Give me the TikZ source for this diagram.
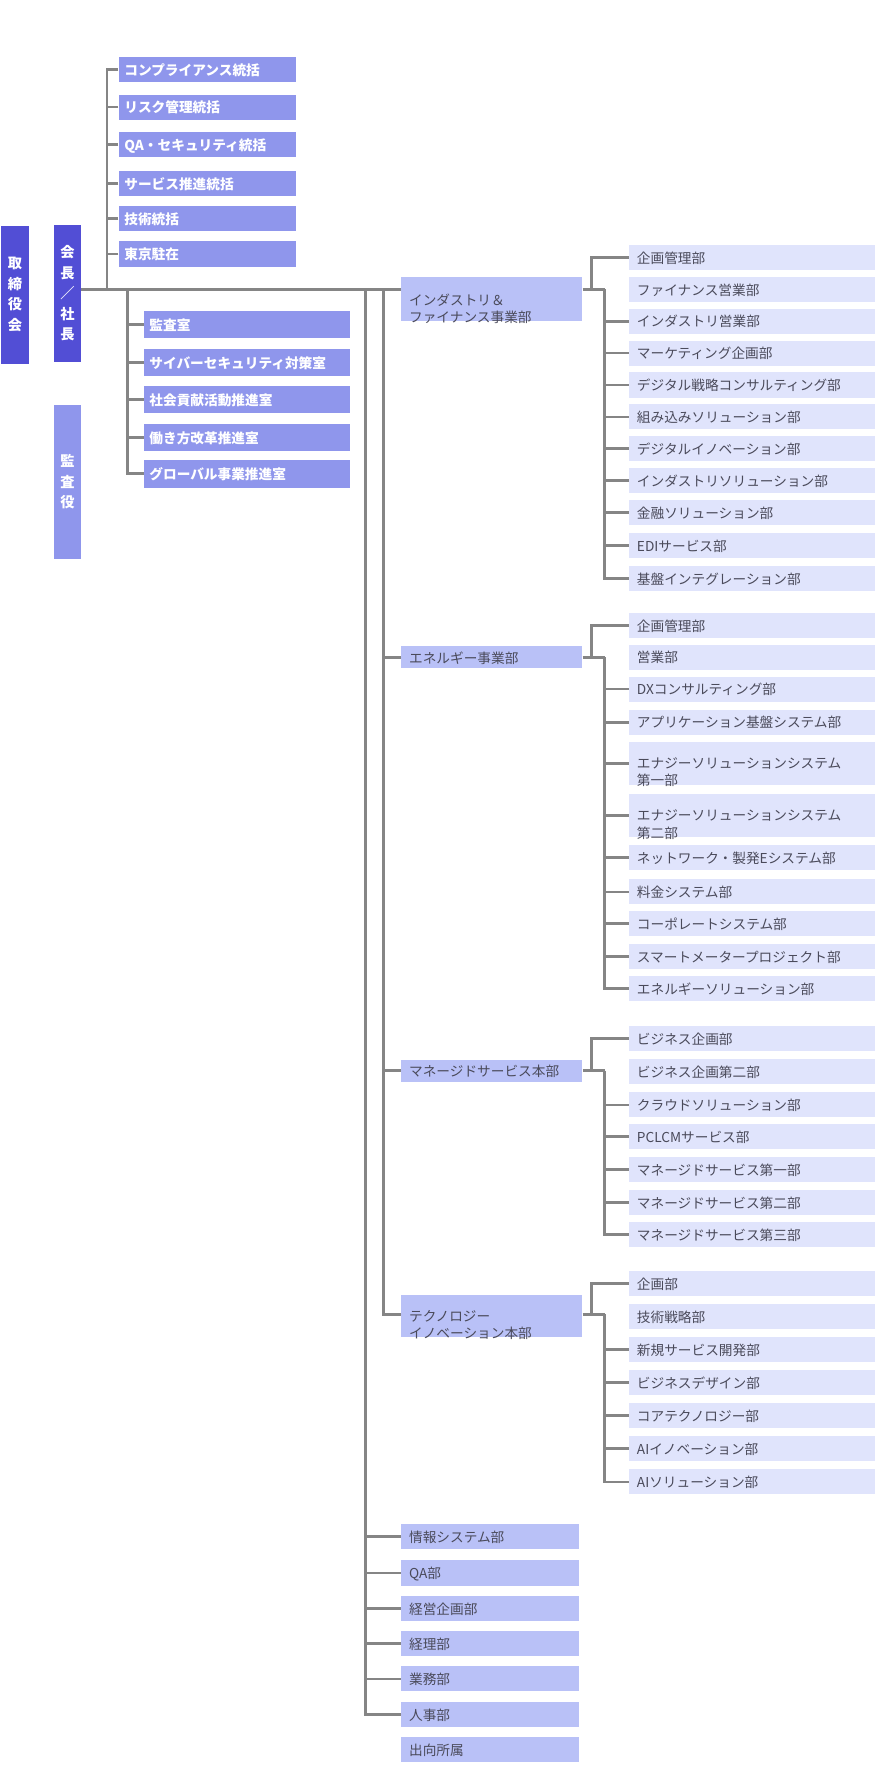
\documentclass[tikz,border=0pt]{standalone}
\usepackage{fontspec}
\setmainfont{Noto Sans CJK JP}
\begin{document}
\begin{tikzpicture}[x=1pt,y=-1pt,
  base/.style={inner sep=0pt,anchor=west,align=left,font=\fontsize{12}{15}\selectfont,text depth=0pt},
  dark/.style={fill=cdark,text=white,inner sep=0pt,align=center,font=\fontsize{12.5}{18}\selectfont\bfseries,minimum width=24},
  upper/.style={base,fill=cmid,text=white,minimum height=22,text width=#1-10,inner xsep=5pt,font=\fontsize{12}{15}\selectfont\bfseries},
  divbox/.style={base,fill=cdiv,text=ctxt,text width=145,inner xsep=7pt},
  dept/.style={base,fill=cdept,text=ctxt,text width=202,inner xsep=7pt},
  ln/.style={draw=cline,line width=2.4pt}]
\definecolor{cdark}{HTML}{524ED5}
\definecolor{cmid}{HTML}{8F96EC}
\definecolor{cdiv}{HTML}{B9C1F7}
\definecolor{cdept}{HTML}{E0E4FC}
\definecolor{ctxt}{HTML}{4A4A5A}
\definecolor{cline}{HTML}{858585}
\useasboundingbox (0,0) rectangle (768,1568);
% left column
\node[dark,minimum height=121,anchor=north west] (tori) at (1,198) {取\\締\\役\\会};
\node[dark,minimum height=121,anchor=north west] (pres) at (47,197) {会\\長\\／\\社\\長};
\node[dark,fill=cmid,minimum height=136,anchor=north west] (kansa) at (47,355) {監\\査\\役};
% upper staff
\foreach \n/\y/\t in {a1/61/コンプライアンス統括,a2/94/リスク管理統括,a3/127/QA・セキュリティ統括,a4/161/サービス推進統括,a5/192/技術統括,a6/223/東京駐在}{
  \node[upper=156,minimum height=22] (\n) at (104,\y) {\t};
  \draw[ln] (\n.west) -- (94,\y);
}
\draw[ln] (94,60) -- (94,254);
\foreach \n/\y/\t in {b1/285/監査室,b2/318/サイバーセキュリティ対策室,b3/351/社会貢献活動推進室,b4/384/働き方改革推進室,b5/416/グローバル事業推進室}{
  \node[upper=181,minimum height=24] (\n) at (126,\y) {\t};
  \draw[ln] (\n.west) -- (112,\y);
}
\draw[ln] (112,254) -- (112,417.2);
% divisions
\node[divbox,minimum height=39,anchor=north west] (d1) at (352,243) {インダストリ＆\\ファイナンス事業部};
\node[divbox,minimum height=19] (d2) at (352,577) {エネルギー事業部};
\node[divbox,minimum height=19] (d3) at (352,940) {マネージドサービス本部};
\node[divbox,minimum height=37,anchor=north west] (d4) at (352,1137) {テクノロジー\\イノベーション本部};
\draw[ln] (pres.east |- 0,254) -- (352,254);
\draw[ln] (337,254) -- (337,1155.2);
\draw[ln] (337,577) -- (d2.west);
\draw[ln] (337,940) -- (d3.west);
\draw[ln] (337,1154) -- (352,1154);
% bottom
\foreach \n/\y/\t in {e1/1349/情報システム部,e2/1381/QA部,e3/1412/経営企画部,e4/1443/経理部,e5/1474/業務部,e6/1505/人事部}{
  \node[divbox,text width=142,minimum height=22] (\n) at (352,\y) {\t};
  \draw[ln] (\n.west) -- (321,\y);
}
\node[divbox,text width=142,minimum height=22] (e7) at (352,1536) {出向所属};
\draw[ln] (321,254) -- (321,1506.2);
% departments
\newcommand{\grp}[4]{% #1 division y, #2 first y, #3 last y, #4 division node
  \draw[ln] (#4.east |- 0,#1) -- (531,#1);
  \draw[ln] (519,#1) -- (519,#2) -- (552,#2);
  \draw[ln] (531,#1) -- (531,#3) -- (552,#3);}
\foreach \n/\y/\t in {f1/226/企画管理部,f2/254/ファイナンス営業部,f3/282/インダストリ営業部,f4/310/マーケティング企画部,f5/338/デジタル戦略コンサルティング部,f6/366/組み込みソリューション部,f7/394/デジタルイノベーション部,f8/422/インダストリソリューション部,f9/450/金融ソリューション部,f10/479/EDIサービス部,f11/508/基盤インテグレーション部,
g1/549/企画管理部,g2/577/営業部,g3/605/DXコンサルティング部,g4/634/アプリケーション基盤システム部,g7/753/ネットワーク・製発Eシステム部,g8/783/料金システム部,g9/811/コーポレートシステム部,g10/840/スマートメータープロジェクト部,g11/868/エネルギーソリューション部,
h1/912/ビジネス企画部,h2/941/ビジネス企画第二部,h3/970/クラウドソリューション部,h4/998/PCLCMサービス部,h5/1027/マネージドサービス第一部,h6/1056/マネージドサービス第二部,h7/1084/マネージドサービス第三部,
i1/1127/企画部,i2/1156/技術戦略部,i3/1185/新規サービス開発部,i4/1214/ビジネスデザイン部,i5/1243/コアテクノロジー部,i6/1272/AIイノベーション部,i7/1301/AIソリューション部}{
  \node[dept,minimum height=22] (\n) at (552,\y) {\t};
}
\node[dept,minimum height=38] (g5) at (552,670) {エナジーソリューションシステム\\第一部};
\node[dept,minimum height=38] (g6) at (552,716) {エナジーソリューションシステム\\第二部};
\grp{254}{226}{508}{d1}
\grp{577}{549}{868}{d2}
\grp{940}{912}{1084}{d3}
\grp{1154}{1127}{1301}{d4}
\foreach \y in {282,310,338,366,394,422,450,479,605,634,670,716,753,783,811,840,970,998,1027,1056,1185,1214,1243,1272}{
  \draw[ln] (531,\y) -- (552,\y);}
\end{tikzpicture}
\end{document}
